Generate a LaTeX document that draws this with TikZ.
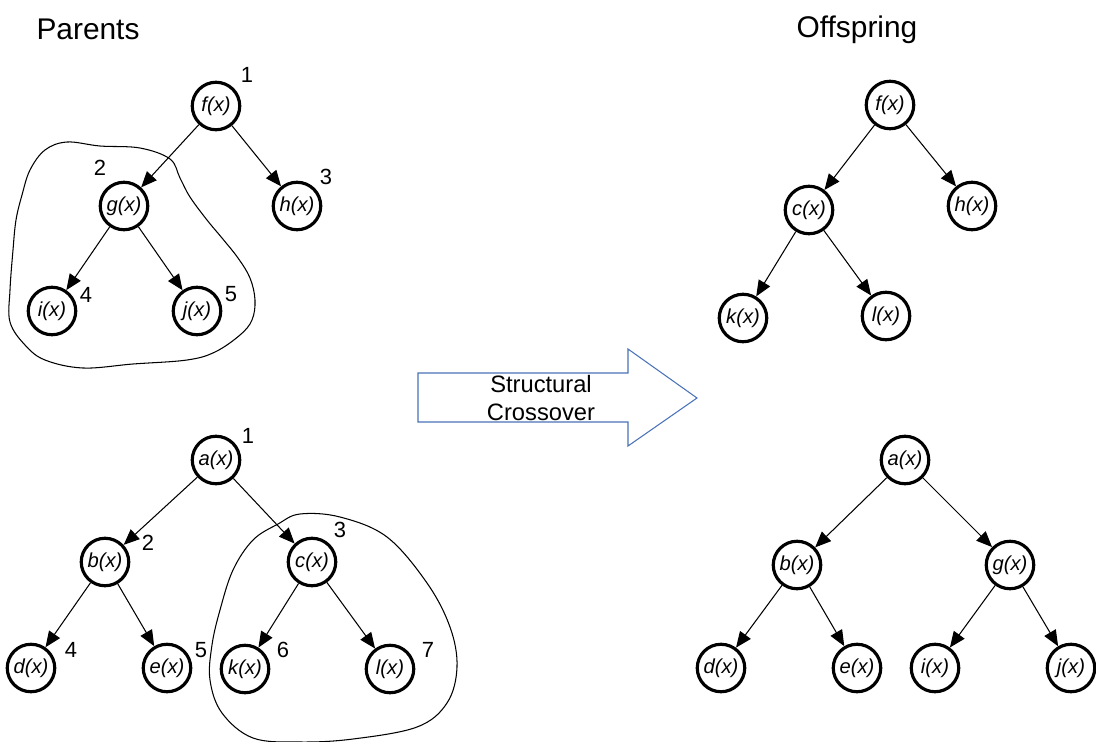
\documentclass[tikz,border=0pt]{standalone}
\usepackage{fontspec}
\setmainfont{Liberation Sans}
\usepackage{xcolor}
\usetikzlibrary{arrows.meta}

\definecolor{arrowblue}{HTML}{4A72B8}

\tikzset{
  fn/.style={circle, draw, line width=1.8pt, minimum size=0.95cm, inner sep=0pt,
    font=\itshape\fontsize{11.5}{13}\selectfont},
  link/.style={-{Triangle[length=9pt,width=7.5pt]}, line width=0.6pt},
  num/.style={font=\fontsize{12.5}{14}\selectfont},
  title/.style={font=\fontsize{17}{20}\selectfont},
  blob/.style={line width=0.6pt}
}

\begin{document}
\begin{tikzpicture}[x=0.02cm, y=-0.02cm]
  \useasboundingbox (0,0) rectangle (1096,741);

  \node[title] (parents) at (88,29) {Parents};
  \node[title] (offspring) at (857,30) {Offspring};

  % first parent
  \node[fn] (pf) at (216,106) {f(x)};
  \node[fn] (pg) at (124,206) {g(x)};
  \node[fn] (ph) at (297,206) {h(x)};
  \node[fn] (pi) at (52,311) {i(x)};
  \node[fn] (pj) at (197,311) {j(x)};
  \draw[link] (pf) -- (pg);
  \draw[link] (pf) -- (ph);
  \draw[link] (pg) -- (pi);
  \draw[link] (pg) -- (pj);
  \node[num] (n1) at (247,75) {1};
  \node[num] (n2) at (100,168) {2};
  \node[num] (n3) at (326,177) {3};
  \node[num] (n4) at (86,295) {4};
  \node[num] (n5) at (231,294) {5};
  \draw[blob] plot[smooth cycle, tension=0.6] coordinates {
    (45,150) (67,142) (100,146) (140,148) (170,159) (180,178) (190,197)
    (207,220) (222,238) (238,258) (250,278) (255,300) (252,320) (240,335)
    (215,352) (187,360) (133,364) (83,368) (45,360) (25,345) (10,322)
    (10,290) (13,250) (16,220) (22,195) (30,170)};

  % second parent
  \node[fn] (pa) at (216,460) {a(x)};
  \node[fn] (pb) at (105,562) {b(x)};
  \node[fn] (pc) at (312,562) {c(x)};
  \node[fn] (pd) at (31,668) {d(x)};
  \node[fn] (pe) at (167,668) {e(x)};
  \node[fn] (pk) at (245,669) {k(x)};
  \node[fn] (pl) at (390,669) {l(x)};
  \draw[link] (pa) -- (pb);
  \draw[link] (pa) -- (pc);
  \draw[link] (pb) -- (pd);
  \draw[link] (pb) -- (pe);
  \draw[link] (pc) -- (pk);
  \draw[link] (pc) -- (pl);
  \node[num] (m1) at (248,436) {1};
  \node[num] (m2) at (148,543) {2};
  \node[num] (m3) at (340,530) {3};
  \node[num] (m4) at (71,650) {4};
  \node[num] (m5) at (201,650) {5};
  \node[num] (m6) at (283,650) {6};
  \node[num] (m7) at (428,650) {7};
  \draw[blob] plot[smooth cycle, tension=0.6] coordinates {
    (300,514) (340,517) (387,537) (427,583) (450,627) (457,667) (447,703)
    (417,727) (353,739) (300,742) (253,738) (222,713) (210,680) (212,645)
    (220,610) (233,570) (253,540) (278,524)};

  % crossover arrow
  \draw[arrowblue, line width=0.6pt] (418,373) -- (628,373) -- (628,349)
    -- (697,398) -- (628,446) -- (628,422) -- (418,422) -- cycle;
  \node[align=center, font=\fontsize{13.5}{15.5}\selectfont] (xover) at (541,398)
    {Structural\\Crossover};

  % first offspring
  \node[fn] (of) at (890,105) {f(x)};
  \node[fn] (oc) at (809,210) {c(x)};
  \node[fn] (oh) at (972,206) {h(x)};
  \node[fn] (ok) at (743,318) {k(x)};
  \node[fn] (ol) at (886,316) {l(x)};
  \draw[link] (of) -- (oc);
  \draw[link] (of) -- (oh);
  \draw[link] (oc) -- (ok);
  \draw[link] (oc) -- (ol);

  % second offspring
  \node[fn] (oa) at (905,460) {a(x)};
  \node[fn] (ob) at (797,565) {b(x)};
  \node[fn] (og) at (1010,565) {g(x)};
  \node[fn] (od) at (721,668) {d(x)};
  \node[fn] (oe) at (857,668) {e(x)};
  \node[fn] (oi) at (935,668) {i(x)};
  \node[fn] (oj) at (1071,668) {j(x)};
  \draw[link] (oa) -- (ob);
  \draw[link] (oa) -- (og);
  \draw[link] (ob) -- (od);
  \draw[link] (ob) -- (oe);
  \draw[link] (og) -- (oi);
  \draw[link] (og) -- (oj);
\end{tikzpicture}
\end{document}
